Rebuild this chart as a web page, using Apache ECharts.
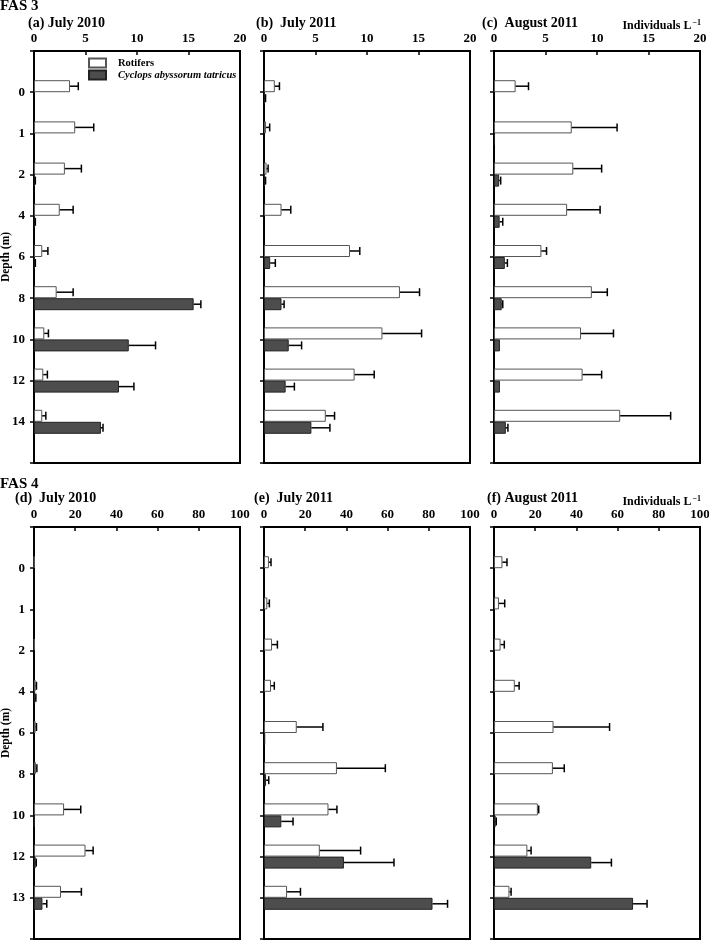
<!DOCTYPE html>
<html><head><meta charset="utf-8">
<script src="https://cdn.jsdelivr.net/npm/echarts@6/dist/echarts.min.js"></script>
<style>html,body{margin:0;padding:0;background:#fff}#c{width:709px;height:940px}</style>
</head><body><div id="c"></div>
<script>
// ---------- data ----------
const depthsFAS3 = ['0','1','2','4','6','8','10','12','14'];
const depthsFAS4 = ['0','1','2','4','6','8','10','12','13'];
const xTicksFAS3 = [0, 5, 10, 15, 20];
const xTicksFAS4 = [0, 20, 40, 60, 80, 100];
const seriesNames = ['Rotifers', 'Cyclops abyssorum tatricus'];
const panelTitles = ['(a) July 2010', '(b)  July 2011', '(c)  August 2011', '(d)  July 2010', '(e)  July 2011', '(f) August 2011'];

// FAS 3 (a) July 2010
const rotA = [3.5, 4.0, 3.0, 2.5, 0.8, 2.2, 1.0, 0.9, 0.8];
const rotAsd = [0.8, 1.8, 1.6, 1.3, 0.55, 1.6, 0.4, 0.4, 0.35];
const cycA = [0, 0, 0.08, 0.08, 0.08, 15.5, 9.2, 8.25, 6.5];
const cycAsd = [0, 0, 0.05, 0.05, 0.05, 0.7, 2.6, 1.45, 0.2];
// FAS 3 (b) July 2011
const rotB = [1.05, 0.2, 0.25, 1.7, 8.35, 13.2, 11.5, 8.8, 6.0];
const rotBsd = [0.45, 0.35, 0.15, 0.9, 0.95, 1.9, 3.8, 1.9, 0.85];
const cycB = [0.1, 0, 0.1, 0, 0.6, 1.7, 2.4, 2.1, 4.6];
const cycBsd = [0.05, 0, 0.05, 0, 0.5, 0.25, 1.25, 0.85, 1.8];
// FAS 3 (c) August 2011
const rotC = [2.1, 7.55, 7.7, 7.1, 4.6, 9.5, 8.45, 8.6, 12.25];
const rotCsd = [1.25, 4.4, 2.75, 3.2, 0.5, 1.5, 3.15, 1.85, 4.9];
const cycC = [0, 0.1, 0.5, 0.55, 1.05, 0.75, 0.58, 0.58, 1.15];
const cycCsd = [0, 0, 0.15, 0.3, 0.25, 0.1, 0, 0, 0.2];
// FAS 4 (d) July 2010
const rotD = [0.2, 0, 0.3, 0.8, 0.8, 1.0, 14.6, 25.0, 13.1];
const rotDsd = [0, 0, 0, 0.4, 0.4, 0.4, 8.1, 3.7, 9.9];
const cycD = [0, 0, 0, 0.6, 0, 0, 0.3, 0.8, 4.1];
const cycDsd = [0, 0, 0, 0.3, 0, 0, 0, 0.3, 2.1];
// FAS 4 (e) July 2011
const rotE = [2.4, 1.6, 3.9, 3.4, 15.9, 35.4, 31.3, 27.1, 11.2];
const rotEsd = [1.0, 1.0, 2.6, 1.6, 12.7, 23.5, 4.1, 19.8, 6.5];
const cycE = [0, 0, 0, 0, 0.6, 1.0, 8.4, 38.8, 81.8];
const cycEsd = [0, 0, 0, 0, 0, 1.3, 5.7, 24.3, 7.3];
// FAS 4 (f) August 2011
const rotF = [4.1, 2.4, 3.2, 10.1, 28.9, 28.6, 21.3, 16.2, 7.5];
const rotFsd = [2.2, 2.8, 1.8, 2.1, 27.2, 5.5, 0.4, 1.8, 0.8];
const cycF = [0, 0, 0, 0, 0, 0, 0.8, 47.2, 67.5];
const cycFsd = [0, 0, 0, 0, 0, 0, 0.3, 9.8, 6.8];

// ---------- layout / style ----------
const FONT = 'Liberation Serif';
const panels = [
  {depths: depthsFAS3, ticks: xTicksFAS3, rot: rotA, rotSd: rotAsd, cyc: cycA, cycSd: cycAsd},
  {depths: depthsFAS3, ticks: xTicksFAS3, rot: rotB, rotSd: rotBsd, cyc: cycB, cycSd: cycBsd},
  {depths: depthsFAS3, ticks: xTicksFAS3, rot: rotC, rotSd: rotCsd, cyc: cycC, cycSd: cycCsd},
  {depths: depthsFAS4, ticks: xTicksFAS4, rot: rotD, rotSd: rotDsd, cyc: cycD, cycSd: cycDsd},
  {depths: depthsFAS4, ticks: xTicksFAS4, rot: rotE, rotSd: rotEsd, cyc: cycE, cycSd: cycEsd},
  {depths: depthsFAS4, ticks: xTicksFAS4, rot: rotF, rotSd: rotFsd, cyc: cycF, cycSd: cycFsd}
];
const colLeft = [34, 264, 494];
const rowTop = [51, 527];
const GW = 206, GH = 412, BAR = 12;

const grids = [], xAxes = [], yAxes = [], series = [];

function barData(vals) {
  return ['-'].concat(vals.map(v => v === 0 ? '-' : v)).concat(['-']);
}
function errData(vals, sds) {
  const d = [];
  vals.forEach((v, i) => { if (sds[i] > 0) d.push([v, v + sds[i], i + 1]); });
  return d;
}
function errSeries(idx, data, sign) {
  return {
    type: 'custom', xAxisIndex: idx, yAxisIndex: idx, z: 5, silent: true,
    encode: {x: [0, 1], y: 2}, data: data,
    renderItem: function (params, api) {
      const p0 = api.coord([api.value(0), api.value(2)]);
      const p1 = api.coord([api.value(1), api.value(2)]);
      const y = p0[1] + sign * BAR / 2;
      return {type: 'group', children: [
        {type: 'line', shape: {x1: p0[0], y1: y, x2: p1[0], y2: y}, style: {stroke: '#000', lineWidth: 1.5}},
        {type: 'line', shape: {x1: p1[0], y1: y - 4, x2: p1[0], y2: y + 4}, style: {stroke: '#000', lineWidth: 1.5}}
      ]};
    }
  };
}

panels.forEach((p, i) => {
  const col = i % 3, row = Math.floor(i / 3);
  grids.push({left: colLeft[col], top: rowTop[row], width: GW, height: GH,
    show: true, borderColor: '#000', borderWidth: 2, backgroundColor: 'transparent', outerBoundsMode: 'none', containLabel: false});
  const tks = p.ticks;
  xAxes.push({type: 'value', gridIndex: i, position: 'top', min: tks[0], max: tks[tks.length - 1], interval: tks[1] - tks[0],
    axisLine: {show: true, lineStyle: {color: '#000', width: 2}},
    axisTick: {show: true, inside: true, length: 4, lineStyle: {color: '#000', width: 1.5}},
    axisLabel: {show: true, margin: 6, color: '#000', fontFamily: FONT, fontWeight: 'bold', fontSize: 13},
    splitLine: {show: false}});
  const cats = ['\u200b'].concat(p.depths).concat(['\u200c']);
  yAxes.push({type: 'category', gridIndex: i, inverse: true, boundaryGap: false, data: cats,
    name: col === 0 ? 'Depth (m)' : '', nameLocation: 'middle', nameGap: 22, nameRotate: 90, nameMoveOverlap: false,
    nameTextStyle: {color: '#000', fontFamily: FONT, fontWeight: 'bold', fontSize: 11.5},
    axisLine: {show: true, lineStyle: {color: '#000', width: 2}},
    axisTick: {show: true, inside: false, length: 4, interval: 0, lineStyle: {color: '#000', width: 1.5}},
    axisLabel: {show: col === 0, interval: 0, margin: 9, color: '#000', fontFamily: FONT, fontWeight: 'bold', fontSize: 13},
    splitLine: {show: false}});
  series.push({name: seriesNames[0], type: 'bar', xAxisIndex: i, yAxisIndex: i, barWidth: BAR, barGap: '0%',
    itemStyle: {color: '#fff', borderColor: '#555', borderWidth: 1}, data: barData(p.rot), silent: true});
  series.push({name: seriesNames[1], type: 'bar', xAxisIndex: i, yAxisIndex: i, barWidth: BAR, barGap: '0%',
    itemStyle: {color: '#4d4d4d', borderColor: '#222', borderWidth: 1}, data: barData(p.cyc), silent: true});
  series.push(errSeries(i, errData(p.rot, p.rotSd), -1));
  series.push(errSeries(i, errData(p.cyc, p.cycSd), 1));
});

function txt(text, x, y, size, align, extra) {
  return {type: 'text', x: x, y: y, silent: true, style: Object.assign({text: text, fill: '#000',
    font: 'bold ' + size + 'px "' + FONT + '"', textAlign: align || 'left', textVerticalAlign: 'middle'}, extra || {})};
}
const unitRich = {
  text: 'Individuals L{s|\u22121}', fill: '#000', font: 'bold 12px "' + FONT + '"', textAlign: 'right', textVerticalAlign: 'middle',
  rich: {s: {fontSize: 8, fontWeight: 'bold', fontFamily: FONT, verticalAlign: 'top', padding: [0, 0, 6, 1]}}
};
const graphics = [
  txt('FAS 3', 0, 6, 15),
  txt(panelTitles[0], 28, 23, 14),
  txt(panelTitles[1], 256, 23, 14),
  txt(panelTitles[2], 482, 23, 14),
  {type: 'text', x: 701, y: 26, silent: true, style: unitRich},
  txt('FAS 4', 0, 484, 15),
  txt(panelTitles[3], 15, 498, 14),
  txt(panelTitles[4], 254, 498, 14),
  txt(panelTitles[5], 487, 498, 14),
  {type: 'text', x: 701, y: 502, silent: true, style: Object.assign({}, unitRich)}
];

const chart = echarts.init(document.getElementById('c'), null, {renderer: 'canvas'});
chart.setOption({
  animation: false,
  backgroundColor: '#fff',
  grid: grids, xAxis: xAxes, yAxis: yAxes, series: series,
  legend: {left: 83, top: 52, padding: 5, orient: 'vertical', itemWidth: 17, itemHeight: 9, itemGap: 0, icon: 'rect',
    selectedMode: false,
    data: [{name: seriesNames[0]}, {name: seriesNames[1]}],
    formatter: function (n) { return n === seriesNames[0] ? '{r|' + n + '}' : '{c|' + n + '}'; },
    textStyle: {color: '#000', fontFamily: FONT, fontWeight: 'bold', fontSize: 10.5, lineHeight: 12,
      rich: {r: {color: '#000', fontFamily: FONT, fontWeight: 'bold', fontSize: 10.5, lineHeight: 12, padding: [0, 0, 0, 7]},
             c: {color: '#000', fontFamily: FONT, fontWeight: 'bold', fontStyle: 'italic', fontSize: 10.5, lineHeight: 12, padding: [0, 0, 0, 7]}}}},
  graphic: graphics
});
</script></body></html>
